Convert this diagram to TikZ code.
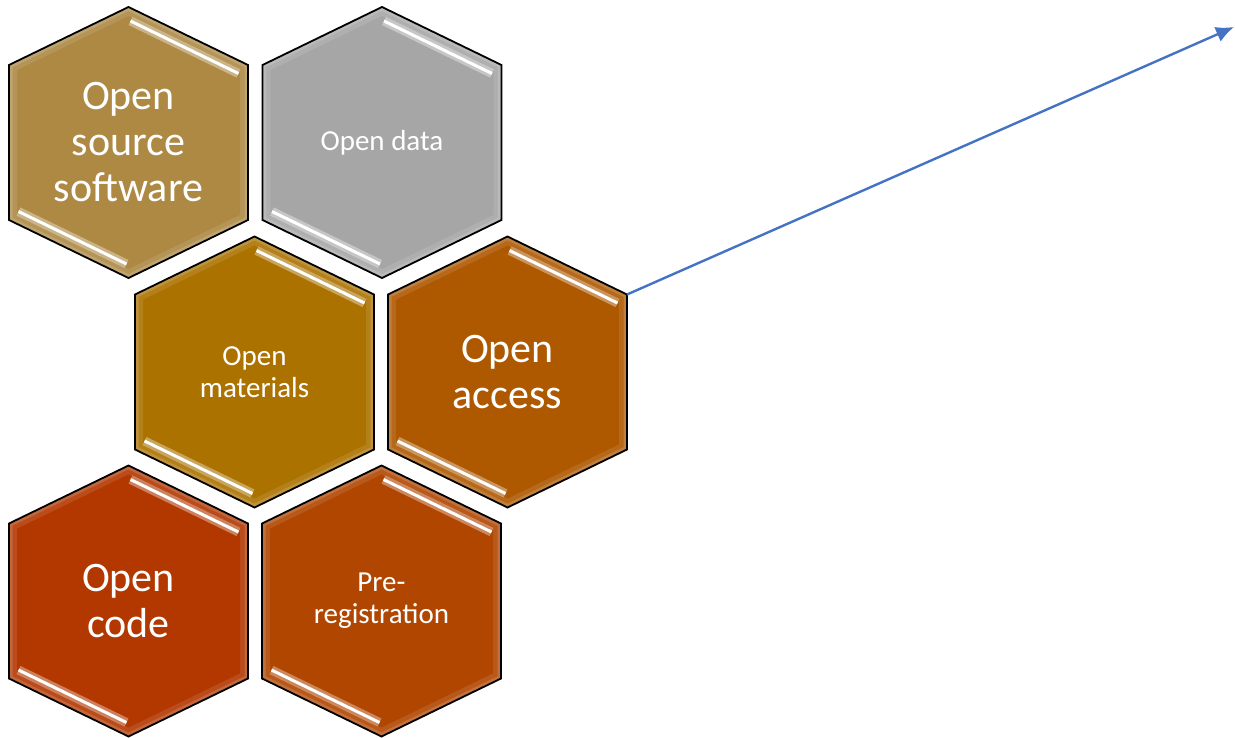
\documentclass[tikz,border=0pt]{standalone}
\usepackage{fontspec}
\setmainfont{Carlito}
\usetikzlibrary{arrows.meta}
\tikzset{>={Latex[width=16pt,length=18pt]}}

\definecolor{softgold}{RGB}{173,137,68}
\definecolor{stonegray}{RGB}{166,166,166}
\definecolor{ochre}{RGB}{172,114,0}
\definecolor{amber}{RGB}{174,88,0}
\definecolor{rust}{RGB}{178,56,0}
\definecolor{copper}{RGB}{176,70,0}
\definecolor{linkblue}{RGB}{68,114,196}

\tikzset{
  hexrim/.style={draw=black, line width=1.8pt, line join=miter},
  glint/.style={draw=white, line width=3pt},
  glow/.style={line width=9pt, opacity=.8},
  bigtext/.style={text=white, align=center, font=\fontsize{42}{46}\selectfont},
  smalltext/.style={text=white, align=center, font=\fontsize{29}{32}\selectfont},
  link/.style={draw=linkblue, line width=2.4pt, ->}
}

% one honeycomb cell: name, centre x, centre y, fill, text style, text
\newcommand{\hexcell}[6]{%
  \fill[#4] (#2,#3-135.5) -- (#2+119.5,#3-77.5) -- (#2+119.5,#3+77.5) -- (#2,#3+135.5)
            -- (#2-119.5,#3+77.5) -- (#2-119.5,#3-77.5) -- cycle;
  \begin{scope}
    \clip (#2,#3-135.5) -- (#2+119.5,#3-77.5) -- (#2+119.5,#3+77.5) -- (#2,#3+135.5)
          -- (#2-119.5,#3+77.5) -- (#2-119.5,#3-77.5) -- cycle;
    \draw[white, opacity=.10, line width=16pt] (#2,#3-135.5) -- (#2+119.5,#3-77.5) -- (#2+119.5,#3+77.5)
          -- (#2,#3+135.5) -- (#2-119.5,#3+77.5) -- (#2-119.5,#3-77.5) -- cycle;
    \draw[white, opacity=.15, line width=7pt] (#2,#3-135.5) -- (#2+119.5,#3-77.5) -- (#2+119.5,#3+77.5)
          -- (#2,#3+135.5) -- (#2-119.5,#3+77.5) -- (#2-119.5,#3-77.5) -- cycle;
  \end{scope}
  \draw[glow, draw=#4!55!white] (#2+2,#3-121.5) -- (#2+110,#3-69);
  \draw[glint] (#2+2,#3-121.5) -- (#2+110,#3-69);
  \draw[glow, draw=#4!55!white] (#2-110,#3+69) -- (#2-2,#3+121.5);
  \draw[glint] (#2-110,#3+69) -- (#2-2,#3+121.5);
  \draw[hexrim] (#2,#3-135.5) -- (#2+119.5,#3-77.5) -- (#2+119.5,#3+77.5) -- (#2,#3+135.5)
            -- (#2-119.5,#3+77.5) -- (#2-119.5,#3-77.5) -- cycle;
  \node[#5] (#1) at (#2,#3) {#6};
  \coordinate (#1-ne) at (#2+119.5,#3-77.5);
}

\begin{document}
\begin{tikzpicture}[x=1pt, y=-1pt]

  \useasboundingbox (0,0) rectangle (1235,737);

  \hexcell{oss}{128.5}{142.5}{softgold}{bigtext}{Open\\source\\software}
  \hexcell{data}{382}{142.5}{stonegray}{smalltext}{Open data}

  \hexcell{materials}{254.5}{372}{ochre}{smalltext}{Open\\materials}
  \hexcell{access}{507.5}{372}{amber}{bigtext}{Open\\access}

  \hexcell{code}{128.5}{601}{rust}{bigtext}{Open\\code}
  \hexcell{prereg}{381.5}{601}{copper}{smalltext}{Pre-\\registration}

  \coordinate (far) at (1234,27);
  \draw[link] (access-ne) -- (far);

\end{tikzpicture}
\end{document}
